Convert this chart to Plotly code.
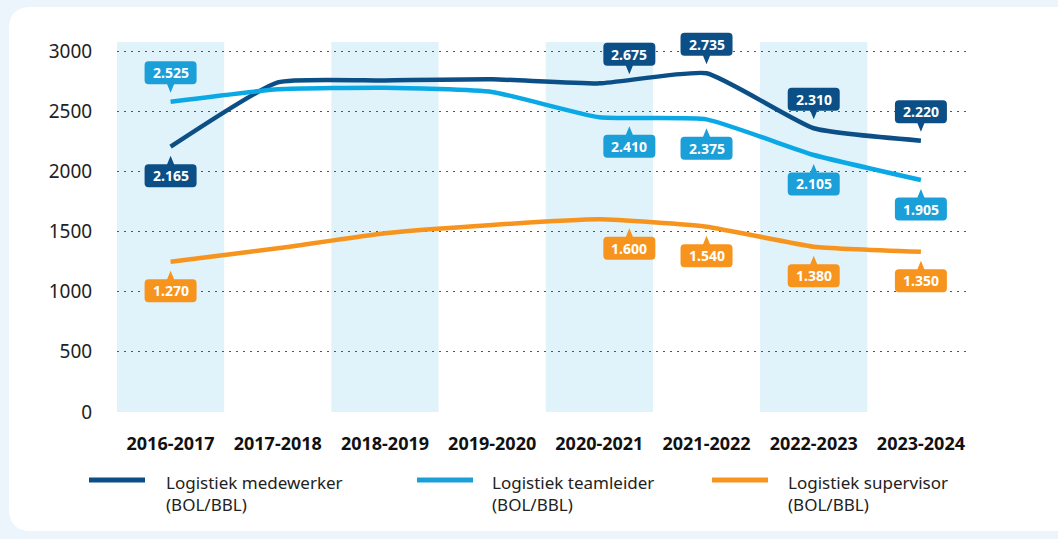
import plotly.graph_objects as go

# ---------------- data ----------------
years = ["2016-2017", "2017-2018", "2018-2019", "2019-2020",
         "2020-2021", "2021-2022", "2022-2023", "2023-2024"]

series_names = ["Logistiek medewerker<br>(BOL/BBL)",
                "Logistiek teamleider<br>(BOL/BBL)",
                "Logistiek supervisor<br>(BOL/BBL)"]

medewerker = [2205, 2740, 2755, 2765, 2731, 2815, 2358, 2255]
teamleider = [2579, 2682, 2695, 2660, 2449, 2432, 2136, 1928]
supervisor = [1249, 1360, 1485, 1554, 1601, 1540, 1374, 1332]

label_idx = [0, 4, 5, 6, 7]
medewerker_labels = [2165, 2675, 2735, 2310, 2220]
teamleider_labels = [2525, 2410, 2375, 2105, 1905]
supervisor_labels = [1270, 1600, 1540, 1380, 1350]

y_ticks = [0, 500, 1000, 1500, 2000, 2500, 3000]

# ---------------- style ----------------
colors = ["#0b4f86", "#0aa9e6", "#f7941e"]
box_colors = ["#0b4f86", "#1a9fd9", "#f7941e"]
label_side = [[-1, 1, 1, 1, 1], [1, -1, -1, -1, -1], [-1, -1, -1, -1, -1]]
label_xshift = {4: 30}
FONT = "Noto Sans, Open Sans, sans-serif"
W, H = 1058, 539
ML, MR, MT, MB = 117, 91, 30, 127
PW, PH = W - ML - MR, H - MT - MB
Y_TOP = 382 * 3000 / 361
BAND_TOP = 370 * 3000 / 361


def px_x(px):
    return (px - ML) / PW


def px_y(py):
    return (H - MB - py) / PH


def label_path(s, sgn, w=52, h=23, r=4, yb=17.5, tip=9, hw=3.5):
    yt = yb + h

    def P(x, y):
        return f"{x:.2f},{sgn * y:.2f}"
    return (f"M{P(s - hw, yb)} L{P(s, tip)} L{P(s + hw, yb)} "
            f"L{P(s + w / 2 - r, yb)} Q{P(s + w / 2, yb)} {P(s + w / 2, yb + r)} "
            f"L{P(s + w / 2, yt - r)} Q{P(s + w / 2, yt)} {P(s + w / 2 - r, yt)} "
            f"L{P(s - w / 2 + r, yt)} Q{P(s - w / 2, yt)} {P(s - w / 2, yt - r)} "
            f"L{P(s - w / 2, yb + r)} Q{P(s - w / 2, yb)} {P(s - w / 2 + r, yb)} Z")


fig = go.Figure()
xs = list(range(len(years)))
all_vals = [medewerker, teamleider, supervisor]
all_labels = [medewerker_labels, teamleider_labels, supervisor_labels]

for name, vals, col in zip(series_names, all_vals, colors):
    fig.add_trace(go.Scatter(
        x=xs, y=vals, mode="lines", name=name.replace("<br>", " "), showlegend=False,
        line=dict(color=col, width=4.5, shape="spline", smoothing=0.45),
        hoverinfo="skip"))

shapes = []
# white rounded card
cl, ct, cr, cb, rad = 9, 7, 1080, 531, 22
card = (f"M{px_x(cl + rad)},{px_y(ct)} L{px_x(cr)},{px_y(ct)} L{px_x(cr)},{px_y(cb)} "
        f"L{px_x(cl + rad)},{px_y(cb)} Q{px_x(cl)},{px_y(cb)} {px_x(cl)},{px_y(cb - rad)} "
        f"L{px_x(cl)},{px_y(ct + rad)} Q{px_x(cl)},{px_y(ct)} {px_x(cl + rad)},{px_y(ct)} Z")
shapes.append(dict(type="path", xref="paper", yref="paper", path=card,
                   fillcolor="white", line=dict(width=0), layer="below"))
# alternating bands
for i in range(0, len(years), 2):
    shapes.append(dict(type="rect", xref="x", yref="y", x0=i - 0.5, x1=i + 0.5,
                       y0=0, y1=BAND_TOP, fillcolor="#e0f2fa", line=dict(width=0),
                       layer="below"))

annotations = []
# data labels
for s_i, (vals, labs) in enumerate(zip(all_vals, all_labels)):
    for k, (idx, lab) in enumerate(zip(label_idx, labs)):
        sgn = label_side[s_i][k]
        xs_px = label_xshift.get(idx, 0)
        shapes.append(dict(type="path", xref="x", yref="y",
                           xsizemode="pixel", ysizemode="pixel",
                           xanchor=idx, yanchor=vals[idx],
                           path=label_path(xs_px, sgn),
                           fillcolor=box_colors[s_i], line=dict(width=0),
                           layer="above"))
        txt = f"{lab:,}".replace(",", ".")
        annotations.append(dict(x=idx, y=vals[idx], xref="x", yref="y",
                                text=f"<b>{txt}</b>", showarrow=False,
                                xshift=xs_px, yshift=sgn * 29,
                                xanchor="center", yanchor="middle",
                                font=dict(family=FONT, size=14, color="white")))

# manual legend
leg_sym = [(89, 145), (417, 473), (712, 768)]
leg_txt = [164, 490, 786]
for (a, b), tx, col, name in zip(leg_sym, leg_txt, box_colors, series_names):
    shapes.append(dict(type="line", xref="paper", yref="paper",
                       x0=px_x(a), x1=px_x(b), y0=px_y(480), y1=px_y(480),
                       line=dict(color=col, width=5)))
    annotations.append(dict(x=px_x(tx), y=px_y(493), xref="paper", yref="paper",
                            text=name, showarrow=False, xanchor="left", yanchor="middle",
                            align="left",
                            font=dict(family=FONT, size=17, color="#222222")))

fig.update_layout(
    width=W, height=H,
    margin=dict(l=ML, r=MR, t=MT, b=MB, pad=0),
    paper_bgcolor="#ebf5fb", plot_bgcolor="rgba(0,0,0,0)",
    font=dict(family=FONT, color="#222222"),
    shapes=shapes, annotations=annotations,
    showlegend=False,
    xaxis=dict(range=[-0.5, 7.43], tickmode="array", tickvals=xs,
               ticktext=[f"<b>{y}</b>" for y in years],
               showgrid=False, zeroline=False, showline=False,
               ticks="outside", ticklen=15, tickcolor="rgba(0,0,0,0)",
               tickfont=dict(family=FONT, size=18, color="#111111"), fixedrange=True),
    yaxis=dict(range=[0, Y_TOP], tickmode="array", tickvals=y_ticks,
               showgrid=True, gridcolor="#555555", gridwidth=1.3, griddash="2px,5px",
               zeroline=False, showline=False,
               ticks="outside", ticklen=20, tickcolor="rgba(0,0,0,0)",
               tickfont=dict(family=FONT, size=19, color="#222222"), fixedrange=True),
)

fig.write_html("out.html", config={"displayModeBar": False},
               post_script="document.body.style.margin='0';document.body.style.background='#ebf5fb';")
